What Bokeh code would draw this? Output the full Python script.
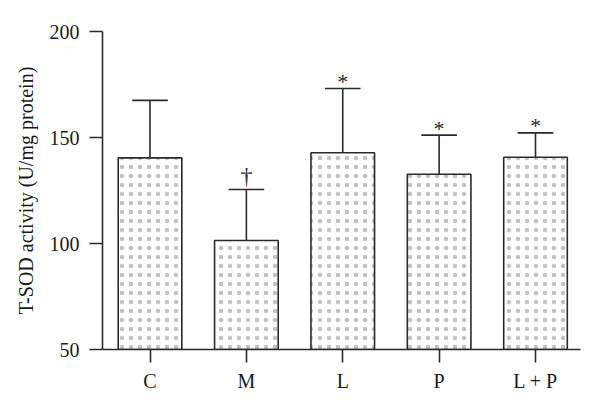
from bokeh.plotting import figure
from bokeh.models import Range1d, FixedTicker, ColumnDataSource
from bokeh.core.properties import value
from bokeh.embed import file_html
from bokeh.resources import INLINE

categories = ["C", "M", "L", "P", "L + P"]
means = [140.4, 101.4, 142.8, 132.7, 140.7]
errors = [27.1, 24.1, 30.3, 18.4, 11.5]
marks = ["", "\u2020", "*", "*", "*"]
y_ticks = [50, 100, 150, 200]

xs = list(range(len(categories)))
tops = [m + e for m, e in zip(means, errors)]

FONT = "Liberation Serif"
INK = "#2a2a2a"

p = figure(width=600, height=408, output_backend="svg", toolbar_location=None,
           x_range=Range1d(-0.493, 4.467), y_range=Range1d(50, 200),
           min_border_left=102, min_border_right=20, min_border_top=31, min_border_bottom=59)
p.outline_line_color = None
p.background_fill_color = "white"
p.border_fill_color = "white"
p.xgrid.visible = False
p.ygrid.visible = False

src = ColumnDataSource(dict(x=xs, top=means, err=tops, mark=marks))

p.vbar(x="x", top="top", bottom=50, width=0.66, source=src,
       fill_color="white", line_color=INK, line_width=1.6,
       hatch_pattern="dot", hatch_scale=9, hatch_weight=0.5, hatch_color="#c2c2c2")
p.segment(x0="x", y0="top", x1="x", y1="err", source=src, line_color=INK, line_width=1.6)
cap = 0.185
p.segment(x0=[x - cap for x in xs], y0=tops, x1=[x + cap for x in xs], y1=tops,
          line_color=INK, line_width=1.6)

dag = [i for i, m in enumerate(marks) if m == "\u2020"]
ast = [i for i, m in enumerate(marks) if m == "*"]
p.text(x=[xs[i] for i in dag], y=[tops[i] for i in dag], text=[marks[i] for i in dag],
       text_font=value(FONT), text_font_size="24px", text_align="center",
       text_baseline="middle", y_offset=-13, text_color=INK)
p.text(x=[xs[i] for i in ast], y=[tops[i] for i in ast], text=[marks[i] for i in ast],
       text_font=value(FONT), text_font_size="22px", text_align="center",
       text_baseline="middle", y_offset=-7, text_color=INK)

for ax in (p.xaxis[0], p.yaxis[0]):
    ax.axis_line_color = INK
    ax.axis_line_width = 1.6
    ax.major_tick_line_color = INK
    ax.major_tick_line_width = 1.6
    ax.minor_tick_line_color = None
    ax.major_tick_in = 0
    ax.major_label_text_font = FONT
    ax.major_label_text_font_size = "20px"
    ax.major_label_text_color = "#1a1a1a"

p.yaxis.ticker = FixedTicker(ticks=y_ticks)
p.yaxis.major_tick_out = 13
p.yaxis.major_label_standoff = 10
p.yaxis.axis_label = "T-SOD activity (U/mg protein)"
p.yaxis.axis_label_text_font = FONT
p.yaxis.axis_label_text_font_style = "normal"
p.yaxis.axis_label_text_font_size = "20px"
p.yaxis.axis_label_text_color = "#1a1a1a"
p.yaxis.axis_label_standoff = 10

p.xaxis.ticker = FixedTicker(ticks=xs)
p.xaxis.major_label_overrides = {i: c for i, c in enumerate(categories)}
p.xaxis.major_tick_out = 13
p.xaxis.major_label_standoff = 7

open("out.html", "w").write(file_html(p, INLINE))
